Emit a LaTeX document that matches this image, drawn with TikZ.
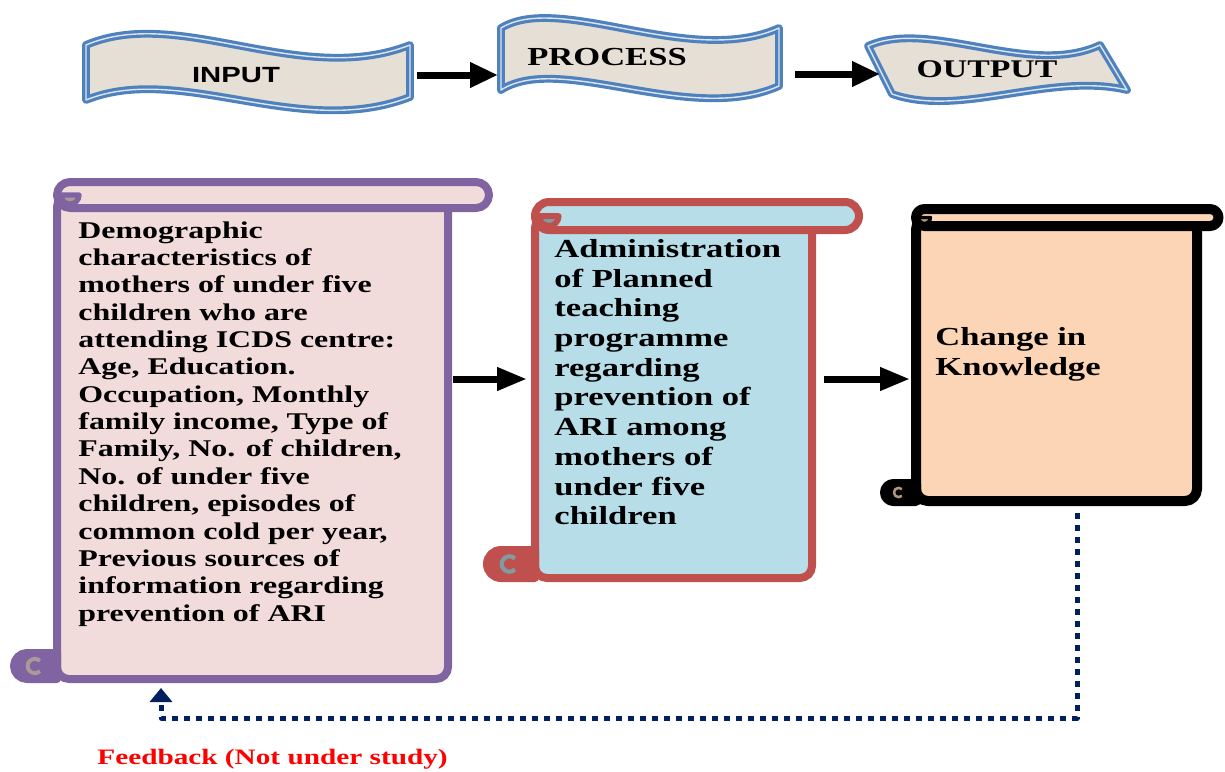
\documentclass[tikz,border=0pt]{standalone}
\usepackage{fontspec}
\usepackage{tikz}
\usetikzlibrary{arrows.meta}
\newfontfamily\scrollfont{Liberation Serif}[FakeStretch=1.33]
\newfontfamily\bannerfont{Liberation Sans}[FakeStretch=1.33]

\definecolor{demoline}{HTML}{8064A2}
\definecolor{demofill}{HTML}{F2DCDB}
\definecolor{teachline}{HTML}{C0504D}
\definecolor{teachfill}{HTML}{B7DDE8}
\definecolor{knowfill}{HTML}{FBD5B5}
\definecolor{bannerline}{HTML}{4F81BD}
\definecolor{bannerfill}{HTML}{E6DFD5}
\definecolor{fbnavy}{HTML}{002060}

% vertical scroll: L, T, R, B, r, top roll end, bottom roll end, line, fill
\newcommand{\scrollbox}[9]{%
  \filldraw[draw=#8,fill=#9,rounded corners=6pt] (#1,{#2+#5}) -- (#1,#4) -- (#3,#4) -- (#3,{#2+#5}) -- cycle;
  \filldraw[draw=#8,fill=#9] ({#1+#5},#2) -- (#6,#2) arc[start angle=-90,end angle=90,radius=#5]
    -- ({#1+#5},{#2+2*#5}) arc[start angle=90,end angle=270,radius=#5] -- cycle;
  \filldraw[draw=#8,fill=#9!70!black,line width={0.2*#5pt}] (#1,{#2+#5}) -- ({#1+1.7*#5},{#2+#5})
    arc[start angle=0,end angle=180,radius={0.7*#5}] -- cycle;
  \filldraw[draw=#8,fill=#8] (#1,{#4-2*#5}) -- ({#7+#5},{#4-2*#5}) arc[start angle=270,end angle=90,radius=#5] -- (#1,#4) -- cycle;
  \draw[#9!70!black,line width={0.15*#5pt}] ({#7+1.6*#5},{#4-#5}) ++(-45:{0.55*#5}) arc[start angle=-45,end angle=-315,radius={0.55*#5}];
}

\tikzset{
  banner/.style={fill=bannerfill, draw=bannerline, line width=1.6pt, double=white!80!bannerline, double distance=0.7pt, line join=round},
  scrolltext/.style={anchor=north west, inner sep=0pt, align=left},
  toparrow/.style={-{Triangle[length=14pt,width=12pt]}, line width=3.5pt},
  flowarrow/.style={-{Triangle[length=15pt,width=11pt]}, line width=3.5pt},
  feedback/.style={fbnavy, line width=2.5pt, dash pattern=on 3pt off 3pt, -{Triangle[length=7pt,width=11pt]}}
}

\begin{document}
\begin{tikzpicture}[x=0.5pt,y=-0.5pt,line join=round]
\useasboundingbox (0,0) rectangle (1225,771);

% banners
\filldraw[banner] (86,45) .. controls (180,5) and (300,88) .. (410,45) -- (410,97)
  .. controls (300,140) and (180,62) .. (86,100) -- cycle;
\filldraw[banner] (501,28) .. controls (560,-8) and (690,68) .. (779,28) -- (779,86)
  .. controls (690,126) and (560,52) .. (501,90) -- cycle;
\filldraw[banner] (868,46) .. controls (930,18) and (1030,78) .. (1100,45) -- (1127,90)
  .. controls (1050,72) and (960,118) .. (892,94) -- cycle;
\node[font={\bannerfont\bfseries\fontsize{11}{13}\selectfont}] (input) at (236,75) {INPUT};
\node[font={\scrollfont\bfseries\fontsize{13}{15}\selectfont}] (process) at (607,57) {PROCESS};
\node[font={\scrollfont\bfseries\fontsize{12.7}{15}\selectfont}] (output) at (987,69) {OUTPUT};
\coordinate (inE) at (417,75); \coordinate (procW) at (498,75);
\coordinate (procE) at (795,74); \coordinate (outW) at (880,74);
\draw[toparrow] (inE) -- (procW);
\draw[toparrow] (procE) -- (outW);

% scrolls
\begin{scope}[line width=4pt]
\scrollbox{57}{182}{448}{679}{13}{476}{14}{demoline}{demofill}
\scrollbox{535}{202}{812}{578}{14}{845}{487}{teachline}{teachfill}
\end{scope}
\begin{scope}[line width=5pt]
\scrollbox{916}{209}{1197}{501}{8.5}{1210}{885}{black}{knowfill}
\end{scope}

\node[scrolltext, font={\scrollfont\bfseries\fontsize{12}{13.68}\selectfont}] (demo) at (78,221)
  {Demographic\\ characteristics of\\ mothers of under five\\ children who are\\ attending ICDS centre:\\
   Age, Education.\\ Occupation, Monthly\\ family income, Type of\\ Family, No. of children,\\ No. of under five\\
   children, episodes of\\ common cold per year,\\ Previous sources of\\ information regarding\\ prevention of ARI};
\node[scrolltext, font={\scrollfont\bfseries\fontsize{13}{14.85}\selectfont}] (teach) at (554,239)
  {Administration\\ of Planned\\ teaching\\ programme\\ regarding\\ prevention of\\ ARI among\\ mothers of\\ under five\\ children};
\node[scrolltext, font={\scrollfont\bfseries\fontsize{13}{15}\selectfont}] (know) at (935,327)
  {Change in\\ Knowledge};

\coordinate (demoE) at (453,379); \coordinate (teachW) at (527,379);
\coordinate (teachE) at (824,379); \coordinate (knowW) at (910,379);
\draw[flowarrow] (demoE) -- (teachW);
\draw[flowarrow] (teachE) -- (knowW);

% feedback loop
\coordinate (knowS) at (1077,513);
\coordinate (demoS) at (161,688);
\draw[feedback] (knowS) -- ++(0,205) -| (demoS);
\node[anchor=base west, inner sep=0pt, text=red, font={\scrollfont\bfseries\fontsize{11}{13}\selectfont}] (fb) at (97,764)
  {Feedback (Not under study)};
\end{tikzpicture}
\end{document}
